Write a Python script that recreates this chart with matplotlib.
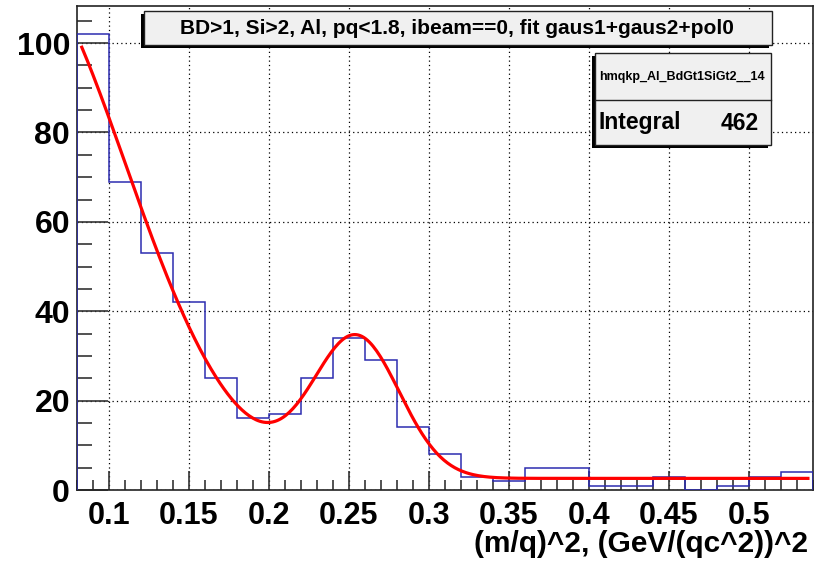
import matplotlib
matplotlib.use('Agg')
import matplotlib.pyplot as plt
import numpy as np
from matplotlib.patches import Rectangle
from matplotlib.ticker import MultipleLocator, FuncFormatter

plt.rcParams['font.family'] = ['Liberation Sans', 'DejaVu Sans']
plt.rcParams['font.weight'] = 'bold'

# histogram bins (m/q)^2 and counts
bin_edges = np.round(np.arange(0.08, 0.5401, 0.02), 3)
counts = [102, 69, 53, 42, 25, 16, 17, 25, 34, 29, 14, 8,
          3, 2, 5, 5, 1, 1, 3, 0, 1, 3, 4]

# fit gaus1 + gaus2 + pol0 (parameters)
g1_amp, g1_mean, g1_sigma = 116.5, 0.040, 0.070
g2_amp, g2_mean, g2_sigma = 31.1, 0.2548, 0.027
p0 = 2.6
fit_range = (0.083, 0.537)

title = 'BD>1, Si>2, Al, pq<1.8, ibeam==0, fit gaus1+gaus2+pol0'
hist_name = 'hmqkp_Al_BdGt1SiGt2__14'
xlabel = '(m/q)^2, (GeV/(qc^2))^2'

W, H = 825, 563


def fx(px):
    return px / W


def fy(py):
    return 1 - py / H


def fit_func(x):
    g1 = g1_amp * np.exp(-0.5 * ((x - g1_mean) / g1_sigma) ** 2)
    g2 = g2_amp * np.exp(-0.5 * ((x - g2_mean) / g2_sigma) ** 2)
    return g1 + g2 + p0


fig = plt.figure(figsize=(W / 100, H / 100), dpi=100)
ax = fig.add_axes([fx(77), fy(490), fx(812.7) - fx(77), fy(6) - fy(490)])

ax.stairs(counts, bin_edges, color='#2c2cb0', lw=1.1, zorder=3)
xf = np.linspace(fit_range[0], fit_range[1], 400)
ax.plot(xf, fit_func(xf), color='#ff0000', lw=2.3, zorder=4)

ax.set_xlim(0.08, 0.54)
ax.set_ylim(0, 108.3)

ax.xaxis.set_major_locator(MultipleLocator(0.05))
ax.xaxis.set_minor_locator(MultipleLocator(0.01))
ax.yaxis.set_major_locator(MultipleLocator(20))
ax.yaxis.set_minor_locator(MultipleLocator(5))
ax.xaxis.set_major_formatter(FuncFormatter(lambda v, p: '%g' % round(v, 3)))

ax.tick_params(axis='x', which='major', direction='in', length=14, width=1.2,
               labelsize=22, pad=8, color='#333333')
ax.tick_params(axis='x', which='minor', direction='in', length=7, width=1.2,
               color='#333333')
ax.tick_params(axis='y', which='major', direction='in', length=22, width=1.2,
               labelsize=23, pad=5, color='#333333')
ax.tick_params(axis='y', which='minor', direction='in', length=11, width=1.2,
               color='#333333')
for lab in ax.get_xticklabels() + ax.get_yticklabels():
    lab.set_fontweight('bold')

for sp in ax.spines.values():
    sp.set_linewidth(1.2)
    sp.set_color('#222222')

ax.grid(True, which='major', color='black', lw=0.9, linestyle=(0, (1, 2.5)),
        zorder=1)
ax.set_axisbelow(True)

fig.text(fx(808), fy(544), xlabel, ha='right', va='center', fontsize=21.5,
         fontweight='bold')


def pave(x0, y0, x1, y1):
    # shadow offset to the lower left, then the box itself
    fig.patches.append(Rectangle((fx(x0 - 3), fy(y1 + 3)), fx(x1 - x0), fy(y0) - fy(y1),
                                 transform=fig.transFigure, facecolor='black',
                                 edgecolor='none', zorder=5))
    fig.patches.append(Rectangle((fx(x0), fy(y1)), fx(x1 - x0), fy(y0) - fy(y1),
                                 transform=fig.transFigure, facecolor='#f0f0f0',
                                 edgecolor='#222222', lw=1.0, zorder=6))


pave(144, 11, 772, 45)
fig.text(fx(457), fy(28.5), title, ha='center', va='center', fontsize=15,
         fontweight='bold', zorder=7)

pave(595, 53, 771, 145)
fig.lines.append(plt.Line2D([fx(595), fx(771)], [fy(100), fy(100)],
                            transform=fig.transFigure, color='#222222', lw=1.0,
                            zorder=7))
fig.text(fx(682), fy(77), hist_name, ha='center', va='center', fontsize=9,
         fontweight='bold', zorder=7)
fig.text(fx(599), fy(123), 'Integral', ha='left', va='center', fontsize=16.5,
         fontweight='bold', zorder=7)
fig.text(fx(759), fy(123), str(sum(counts)), ha='right', va='center',
         fontsize=16.5, fontweight='bold', zorder=7)

fig.savefig('out.png', dpi=100)
